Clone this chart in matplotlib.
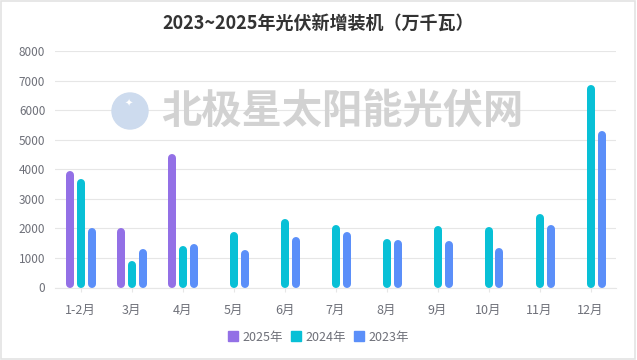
import numpy as np
import matplotlib
matplotlib.use("Agg")
import matplotlib.pyplot as plt
from matplotlib.lines import Line2D
from matplotlib.patches import Ellipse, Rectangle

plt.rcParams['font.family'] = ['Noto Sans CJK SC', 'DejaVu Sans']

# === DATA (万千瓦) ===
months = ["1-2月", "3月", "4月", "5月", "6月", "7月", "8月", "9月", "10月", "11月", "12月"]
y2025 = [3940, 2000, 4520, None, None, None, None, None, None, None, None]
y2024 = [3660, 880, 1420, 1890, 2320, 2100, 1640, 2080, 2030, 2490, 6840]
y2023 = [2020, 1310, 1460, 1270, 1710, 1870, 1590, 1580, 1350, 2130, 5300]
series_names = ["2025年", "2024年", "2023年"]
colors = ["#9370e6", "#08c0d6", "#5b8ff9"]

# === FIGURE ===
W, H = 637, 360
fig = plt.figure(figsize=(W / 100, H / 100), dpi=100)
ax_l, ax_r, ax_b, ax_t = 55, 616, 72.5, 309
ax = fig.add_axes([ax_l / W, ax_b / H, (ax_r - ax_l) / W, (ax_t - ax_b) / H])

ymax = 8000
ax.set_xlim(-0.5, len(months) - 0.5)
ax.set_ylim(0, ymax)

# bar geometry: 8px wide with round caps, 11px apart
px_per_cat = (ax_r - ax_l) / len(months)
offset = 11 / px_per_cat
lw_pt = 8 * 72 / 100
cap = 4 * ymax / (ax_t - ax_b)  # half bar width in data units

x = np.arange(len(months))
for i, (vals, c) in enumerate(zip([y2025, y2024, y2023], colors)):
    xs, lo, hi = [], [], []
    for xi, v in zip(x, vals):
        if v is None:
            continue
        xs.append(xi + (i - 1) * offset)
        lo.append(cap)
        hi.append(max(v - cap, cap))
    ax.vlines(xs, lo, hi, colors=c, linewidth=lw_pt, capstyle='round', zorder=3)

# axes styling
for s in ["top", "right", "left"]:
    ax.spines[s].set_visible(False)
ax.spines["bottom"].set_color("#e6e6e6")
ax.spines["bottom"].set_linewidth(0.8)
ax.set_yticks(np.arange(0, 8001, 1000))
ax.grid(axis="y", color="#e6e6e6", linewidth=0.8, zorder=0)
ax.set_axisbelow(True)
ax.set_xticks(x)
ax.set_xticklabels(months)
ax.tick_params(axis="y", length=0, pad=7, labelsize=8.5, labelcolor="#6e7079")
ax.tick_params(axis="x", length=3, color="#e6e6e6", pad=9, labelsize=9, labelcolor="#6e7079")

# title
fig.text(0.5, (H - 23) / H, "2023~2025年光伏新增装机（万千瓦）", ha="center", va="center",
         fontsize=13, fontweight="bold", color="#333333")

# watermark
fig.add_artist(Ellipse((130 / W, (H - 111) / H), 36 / W, 36 / H, transform=fig.transFigure,
                       color="#cddbee", zorder=4))
fig.text(129 / W, (H - 104) / H, "✦", ha="center", va="center", fontsize=7,
         color="white", family="DejaVu Sans", zorder=5)
fig.text(342 / W, (H - 111) / H, "北极星太阳能光伏网", ha="center", va="center",
         fontsize=29, fontweight="bold", color="#d2d2d2", zorder=4)

# legend
handles = [Line2D([], [], marker="s", linestyle="none", markersize=7.5,
                  markerfacecolor=c, markeredgecolor=c) for c in colors]
fig.legend(handles, series_names, loc="center", bbox_to_anchor=(0.5, (H - 337) / H),
           ncol=3, frameon=False, fontsize=9, labelcolor="#6e7079",
           handlelength=0.8, handletextpad=0.4, columnspacing=0.6)

# outer border
fig.add_artist(Rectangle((0.5 / W, 1.5 / H), (W - 2.5) / W, (H - 2) / H, transform=fig.transFigure,
                         fill=False, edgecolor="#e3e3e3", linewidth=1.2))

plt.savefig("out.png", dpi=100)
plt.close()
